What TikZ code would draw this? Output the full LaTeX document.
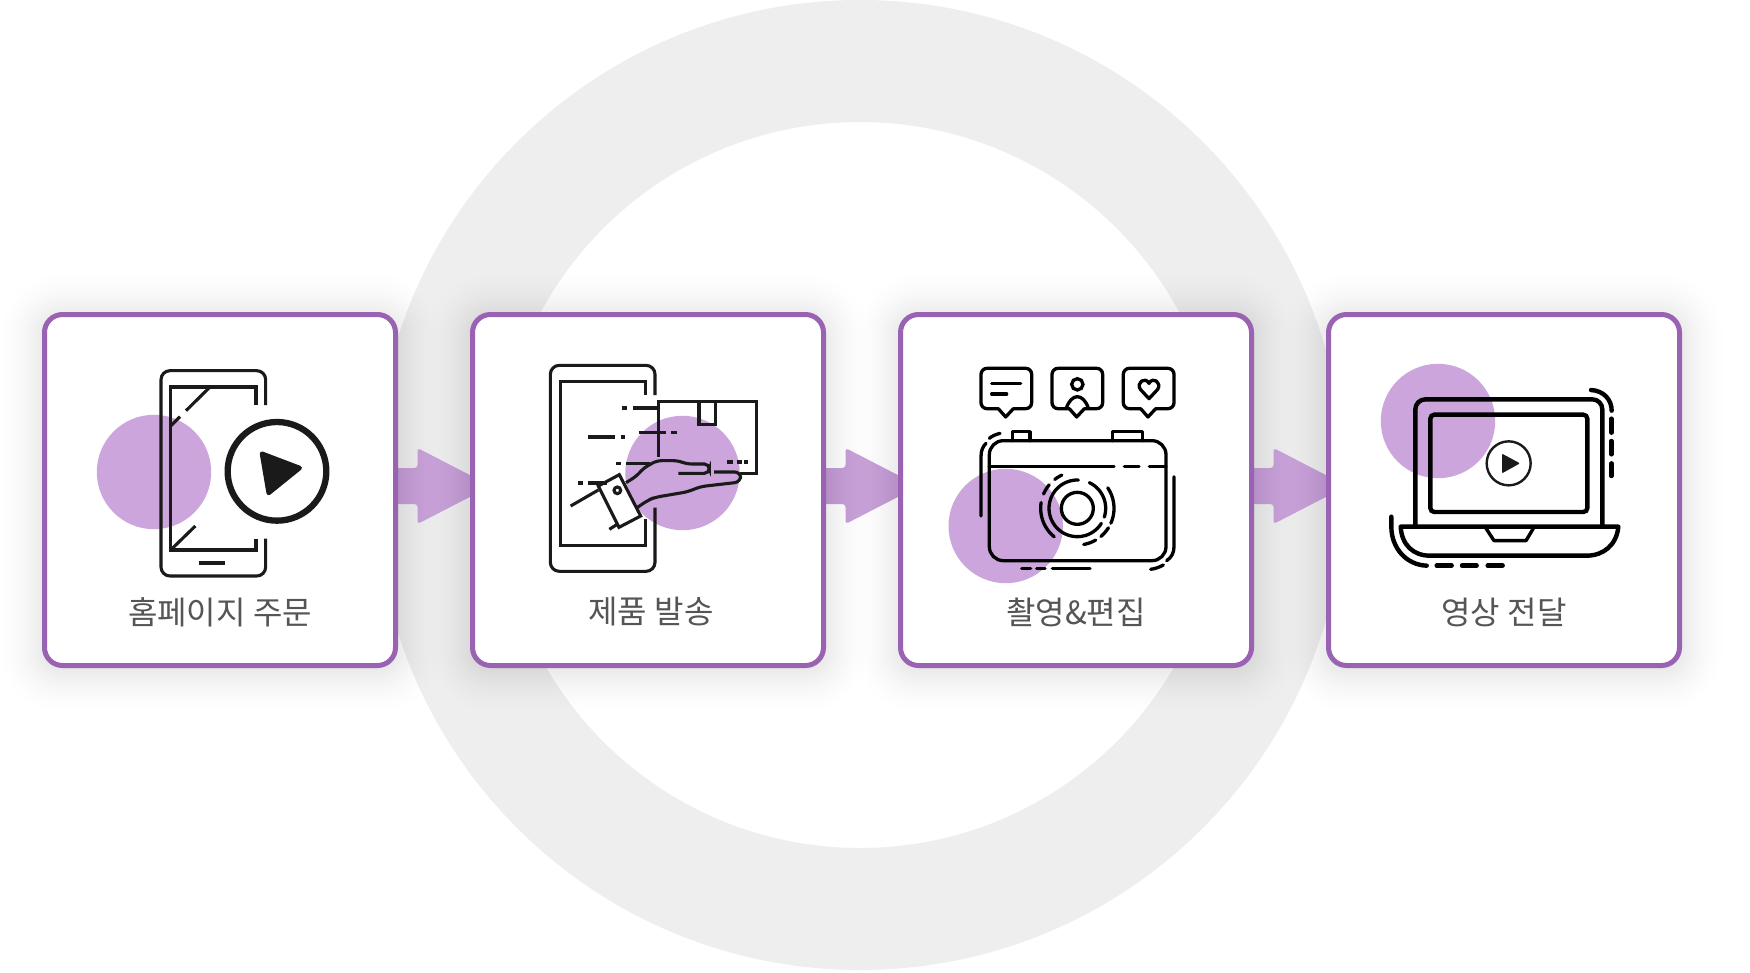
\documentclass[tikz,border=0pt]{standalone}
\usepackage{fontspec}
\newfontfamily\krfont{Noto Sans CJK KR}
\usetikzlibrary{calc}
\definecolor{ringgray}{HTML}{EEEEEE}
\definecolor{cardline}{HTML}{9A62B3}
\definecolor{blob}{HTML}{CBA5DC}
\definecolor{arrowfill}{HTML}{C8A2D9}
\definecolor{ink}{HTML}{1A1A1A}
\definecolor{labelgray}{HTML}{555555}
\newcommand{\lensarc}[3]{\draw[camline] plot[domain=#2:#3,samples=40,smooth] ({562+#1*cos(\x)},{625-#1*sin(\x)});}
\newcommand{\bubble}[1]{%
  \draw[camline,rounded corners=6pt] ({#1+325},326) -- ({#1+273},326) -- ({#1+273},205) -- ({#1+425},205) -- ({#1+425},326) -- ({#1+370},326);
  \draw[camline,line join=round] ({#1+325},326) -- ({#1+347},351) -- ({#1+370},326);}
\tikzset{
  carditem/.style={draw=cardline,line width=5pt,fill=white,rounded corners=18pt,minimum width=351pt,minimum height=351pt,outer sep=0pt,inner sep=0pt},
  blobshape/.style={fill=blob},
  flowarrow/.style={fill=arrowfill,rounded corners=3pt},
  cardlabel/.style={font=\krfont\fontsize{32}{32}\selectfont,text=labelgray,inner sep=0pt},
  thin ink/.style={draw=ink,line width=3.1pt},
  camline/.style={draw=black,line width=3.3pt,line cap=round},
  lapline/.style={draw=black,line width=4.4pt,line cap=round},
}
\begin{document}
\begin{tikzpicture}[x=1pt,y=-1pt]
\useasboundingbox (0,0) rectangle (1750,972);
\fill[white] (0,0) rectangle (1750,972);
% ring
\fill[ringgray,even odd rule] (860,485) circle[radius=485] (860,485) circle[radius=363];
\path (220,490) coordinate (c1) (648,490) coordinate (c2) (1076,490) coordinate (c3) (1504,490) coordinate (c4);
% arrows
\foreach \a/\b in {c1/c2,c2/c3,c3/c4}{
  \fill[flowarrow] ($(\a)+(175.5,-22)$) -- ++(22,0) -- ++(0,-20) -- ($(\b)+(-157,-4)$) -- ($(\a)+(197.5,34)$) -- ++(0,-20) -- ++(-22,0) -- cycle;
}
% soft shadows: layers crowd towards the card, so the shade falls off smoothly
\foreach \c in {c1,c2,c3,c4}{
  \foreach \i in {0,...,21}{
    \pgfmathsetmacro{\k}{55*(1-sqrt(1-\i/22))}
    \fill[black,fill opacity=0.005,rounded corners={18+\k}] ($(\c)+({-175.5-\k},{-175.5-\k+3})$) rectangle ($(\c)+({175.5+\k},{175.5+\k+3})$);
  }
}
% cards
\node[carditem] (card1) at (c1) {};
\node[carditem] (card2) at (c2) {};
\node[carditem] (card3) at (c3) {};
\node[carditem] (card4) at (c4) {};
% blobs
\fill[blobshape] (154,472) circle[radius=57.2];
\fill[blobshape] (682.5,473) circle[radius=57.2];
\fill[blobshape] (1005.7,526) circle[radius=57.2];
\fill[blobshape] (1438,421) circle[radius=57.2];
% ---- icon 1
\begin{scope}[shift={(30,300)},x=0.33333pt,y=-0.33333pt]
  \draw[thin ink,rounded corners=9pt] (707,315) -- (707,212) -- (393,212) -- (393,828) -- (707,828) -- (707,716);
  \draw[thin ink] (678,315) -- (678,261) -- (422,261) -- (422,750) -- (678,750) -- (678,716);
  \draw[thin ink] (540,261) -- (468,332) (450,350) -- (422,378) (496,678) -- (422,750);
  \draw[thin ink] (506,789) -- (585,789);
  \draw[draw=ink,line width=6.3pt] (741,514) circle[radius=148];
  \draw[draw=ink,fill=ink,line width=4.5pt,line join=round] (696,461) -- (809,504) -- (716,579) -- cycle;
\end{scope}
\node[cardlabel] (label1) at (220,612) {홈페이지 주문};
% ---- icon 2
\begin{scope}[shift={(460,300)},x=0.33333pt,y=-0.33333pt]
  \draw[thin ink,rounded corners=9pt] (585,285) -- (585,196) -- (271,196) -- (271,814) -- (585,814) -- (585,623);
  \draw[thin ink] (556,285) -- (556,245) -- (301,245) -- (301,736) -- (556,736) -- (556,657);
  \draw[thin ink] (595,470) -- (595,304) -- (889,304) -- (889,520) -- (840,520);
  \draw[thin ink] (717,304) -- (717,373) -- (767,373) -- (767,304);
  \draw[thin ink] (487,324) -- (500,324) (518,324) -- (595,324)
    (384,411) -- (466,411) (482,411) -- (496,411) (536,397) -- (618,397) (632,397) -- (650,397)
    (468,490) -- (483,490) (498,490) -- (570,490)
    (802,486) -- (820,486) (832,486) -- (845,486) (852,486) -- (865,486)
    (355,549) -- (368,549) (383,549) -- (440,549);
  \draw[thin ink,rounded corners=5pt] (498,548) -- (530,528) -- (550,505) -- (590,482) -- (655,482) -- (680,492) -- (748,492) -- (748,520) -- (655,520);
  \draw[thin ink,rounded corners=6pt] (762,516) -- (842,516) -- (842,546) -- (720,560) -- (685,575) -- (585,592) -- (565,600) -- (528,625);
  \draw[thin ink,line join=miter] (415,558) -- (478,524) -- (542,648) -- (477,682) -- cycle;
  \draw[thin ink] (472,571) circle[radius=10];
  \draw[thin ink] (332,618) -- (415,570) (448,688) -- (470,674);
\end{scope}
\node[cardlabel] (label2) at (651,612) {제품 발송};
% ---- icon 3
\begin{scope}[shift={(890,300)},x=0.33333pt,y=-0.33333pt]
  \bubble{0}\bubble{213}\bubble{427}
  \draw[camline] (305,250) -- (392,250) (305,282) -- (350,282);
  \draw[camline] (562,253) circle[radius=17];
  \draw[camline] (529,324) .. controls (537,302) and (549,290) .. (562,290) .. controls (575,290) and (587,302) .. (595,324);
  \draw[camline,line join=round] (777,296) -- (751,268) .. controls (738,248) and (765,228) .. (777,250) .. controls (789,228) and (816,248) .. (803,268) -- cycle;
  \draw[camline,rounded corners=14pt] (298,500) -- (298,422) -- (828,422) -- (828,782) -- (298,782) -- (298,500);
  \draw[camline] (298,500) -- (672,500) (703,500) -- (747,500) (778,500) -- (828,500);
  \draw[camline,line join=round] (367,422) -- (367,395) -- (420,395) -- (420,422);
  \draw[camline,line join=round] (668,422) -- (668,395) -- (758,395) -- (758,422);
  \draw[camline] (562,625) circle[radius=48];
  \lensarc{85}{88}{328}
  \lensarc{85}{65}{-18}
  \lensarc{110}{171}{231}
  \lensarc{110}{157}{140}
  \lensarc{110}{128}{115}
  \lensarc{110}{34}{-24}
  \lensarc{110}{-32}{-50}
  \lensarc{110}{-60}{-80}
  \draw[camline] (273,648) -- (273,470) .. controls (273,452) and (278,440) .. (288,430);
  \draw[camline] (298,415) .. controls (306,408) and (318,403) .. (330,400);
  \draw[camline] (852,530) -- (852,740) .. controls (852,758) and (845,772) .. (830,782);
  \draw[camline] (820,795) .. controls (808,802) and (795,806) .. (782,808);
  \draw[camline] (395,806) -- (422,806) (440,806) -- (465,806) (487,806) -- (600,806);
\end{scope}
\node[cardlabel] (label3) at (1076,612) {촬영\&편집};
% ---- icon 4
\begin{scope}[shift={(1310,300)},x=0.33333pt,y=-0.33333pt]
  \draw[lapline,rounded corners=10pt] (316,680) -- (316,298) -- (877,298) -- (877,680);
  \draw[lapline,rounded corners=4pt] (361,344) rectangle (832,636);
  \draw[draw=ink,line width=2.4pt] (596,490) circle[radius=66];
  \fill[ink,rounded corners=1pt] (576,461) -- (630,490) -- (576,520) -- cycle;
  \draw[lapline,line join=round] (272,680) -- (925,680) .. controls (920,735) and (880,767) .. (830,767) -- (360,767) .. controls (310,767) and (275,735) .. (272,680) -- cycle;
  \draw[draw=black,line width=3.4pt,line join=round] (528,685) -- (552,722) -- (648,722) -- (670,685);
  \draw[lapline] (843,270) .. controls (880,272) and (905,298) .. (905,332);
  \draw[lapline] (904,356) -- (904,398) (904,423) -- (904,463) (904,490) -- (904,528);
  \draw[lapline] (244,650) -- (244,680) .. controls (244,745) and (290,795) .. (350,797);
  \draw[lapline] (380,797) -- (425,797) (456,797) -- (500,797) (533,797) -- (578,797);
\end{scope}
\node[cardlabel] (label4) at (1504,612) {영상 전달};
\end{tikzpicture}
\end{document}
